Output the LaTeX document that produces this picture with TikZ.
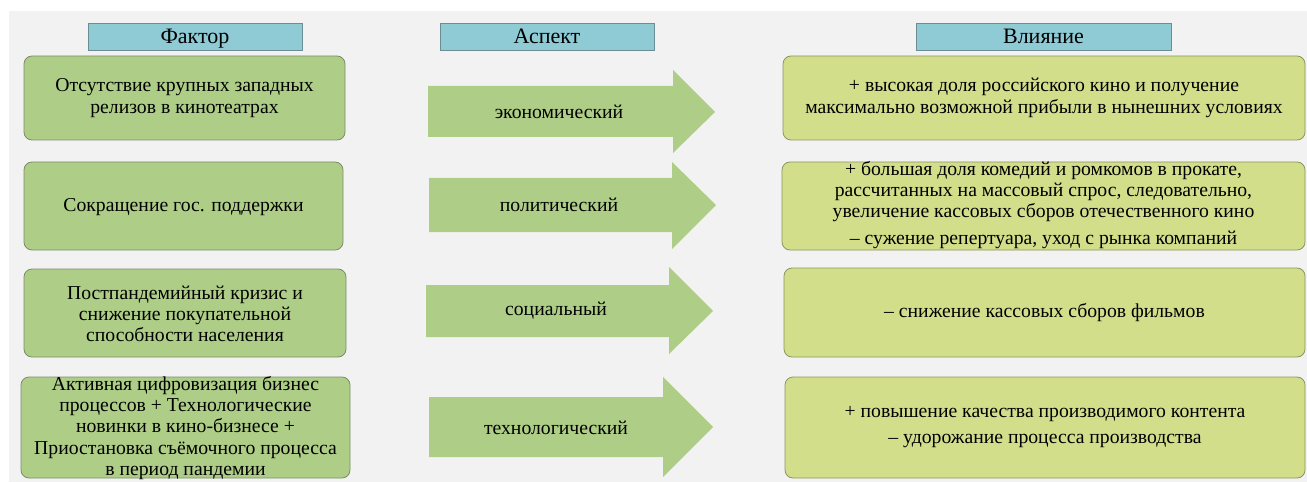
\documentclass[tikz,border=0pt]{standalone}
\usepackage{fontspec}
\setmainfont{Liberation Serif}
\begin{document}
\begin{tikzpicture}[x=1pt,y=-1pt,
  hdr/.style={draw=hdrline,fill=hdrfill,line width=0.8pt},
  htxt/.style={font=\fontsize{22}{24}\selectfont,inner sep=0pt,anchor=base},
  lbox/.style={draw=lline,fill=lfill,rounded corners=8pt,line width=0.8pt},
  rbox/.style={draw=rline,fill=rfill,rounded corners=8pt,line width=0.8pt},
  txt/.style={align=center,font=\fontsize{19.7}{21.3}\selectfont,inner sep=0pt},
  arr/.style={fill=afill}]
\definecolor{bg}{HTML}{F2F2F2}
\definecolor{hdrfill}{HTML}{8FCBD5}
\definecolor{hdrline}{HTML}{6E8C94}
\definecolor{lfill}{HTML}{AECE87}
\definecolor{lline}{HTML}{7D8C68}
\definecolor{rfill}{HTML}{D3DE8A}
\definecolor{rline}{HTML}{8A9660}
\definecolor{afill}{HTML}{AECE87}
\useasboundingbox (0,0) rectangle (1307,484);
\fill[white] (0,0) rectangle (1307,484);
\fill[bg] (9,11) rectangle (1307,482);
% headers
\draw[hdr] (88,23) rectangle (302,50);
\node[htxt] (h1) at (195,44) {Фактор};
\draw[hdr] (440,23) rectangle (654,50);
\node[htxt] (h2) at (547,44) {Аспект};
\draw[hdr] (916,23) rectangle (1171,50);
\node[htxt] (h3) at (1043.5,44) {Влияние};
% left boxes
\draw[lbox] (24,56) rectangle (345,140);
\node[txt] (l1) at (184.5,98) {Отсутствие крупных западных\\релизов в кинотеатрах};
\draw[lbox] (24,162) rectangle (343,250);
\node[txt] (l2) at (183.5,207) {Сокращение гос. поддержки};
\draw[lbox] (24,269) rectangle (346,357);
\node[txt] (l3) at (185,314) {Постпандемийный кризис и\\снижение покупательной\\способности населения};
\draw[lbox] (21,377) rectangle (350,478);
\node[txt] (l4) at (185.5,428) {Активная цифровизация бизнес\\процессов + Технологические\\новинки в кино-бизнесе +\\Приостановка съёмочного процесса\\в период пандемии};
% arrows
\fill[arr] (428,86) -- (673,86) -- (673,70) -- (715,112) -- (673,153) -- (673,137) -- (428,137) -- cycle;
\node[txt] (a1) at (559,112) {экономический};
\fill[arr] (429,178) -- (672,178) -- (672,162) -- (716,205) -- (672,249) -- (672,232) -- (429,232) -- cycle;
\node[txt] (a2) at (559,205) {политический};
\fill[arr] (426,285) -- (669,285) -- (669,267) -- (713,311) -- (669,354) -- (669,337) -- (426,337) -- cycle;
\node[txt] (a3) at (556,311) {социальный};
\fill[arr] (429,397) -- (663,397) -- (663,377) -- (713,427) -- (663,477) -- (663,457) -- (429,457) -- cycle;
\node[txt] (a4) at (556,428) {технологический};
% right boxes
\draw[rbox] (783,56) rectangle (1305,140);
\node[txt] (r1) at (1044,98) {+ высокая доля российского кино и получение\\максимально возможной прибыли в нынешних условиях};
\draw[rbox] (782,162) rectangle (1305,250);
\node[txt] (r2) at (1043.5,205) {+ большая доля комедий и ромкомов в прокате,\\рассчитанных на массовый спрос, следовательно,\\увеличение кассовых сборов отечественного кино\\[5.5pt]– сужение репертуара, уход с рынка компаний};
\draw[rbox] (784,268) rectangle (1305,357);
\node[txt] (r3) at (1044.5,313) {– снижение кассовых сборов фильмов};
\draw[rbox] (785,377) rectangle (1305,478);
\node[txt] (r4) at (1045,427) {+ повышение качества производимого контента\\[5pt]– удорожание процесса производства};
\end{tikzpicture}
\end{document}
